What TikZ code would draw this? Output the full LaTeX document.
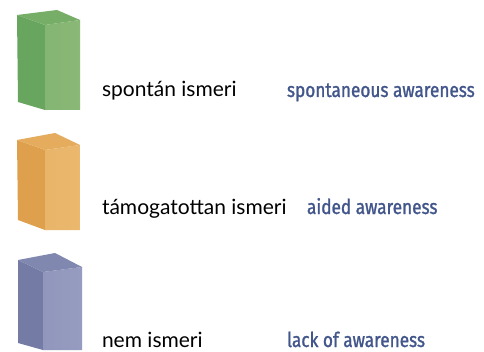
\documentclass[tikz,border=0pt]{standalone}
\usepackage{fontspec}
\setmainfont{Lato}
\newfontfamily\engFont[FakeStretch=0.84,FakeBold=1.2]{Fira Sans}
\begin{document}
\begin{tikzpicture}[x=1pt,y=1pt]
\definecolor{fillColor}{RGB}{255,255,255}
\path[use as bounding box,fill=fillColor] (0,0) rectangle (484,351);
\tikzset{
  huLabel/.style={text=black,anchor=base west,inner sep=0pt,outer sep=0pt,font=\fontsize{21}{24}\selectfont},
  enLabel/.style={text=engColor,anchor=base west,inner sep=0pt,outer sep=0pt,font=\engFont\fontsize{20.5}{24}\selectfont}
}
\definecolor{engColor}{RGB}{66,86,140}

% green box
\definecolor{sideColor}{RGB}{104,166,96}
\definecolor{frontColor}{RGB}{138,184,118}
\definecolor{topColor}{RGB}{118,174,104}
\path[fill=sideColor] (17,336) -- (45,326) -- (45,241) -- (18,249) -- cycle;
\path[left color=frontColor!85!sideColor,right color=frontColor] (45,326) -- (80,331) -- (80,241) -- (45,241) -- cycle;
\path[fill=topColor] (17,336) -- (57,341) -- (80,331) -- (45,326) -- cycle;

% orange box
\definecolor{sideColor}{RGB}{222,160,76}
\definecolor{frontColor}{RGB}{234,184,110}
\definecolor{topColor}{RGB}{228,172,92}
\path[fill=sideColor] (17,211) -- (45,201) -- (45,121) -- (18,131) -- cycle;
\path[left color=frontColor!85!sideColor,right color=frontColor] (45,201) -- (80,206) -- (80,121) -- (45,121) -- cycle;
\path[fill=topColor] (17,211) -- (55,218) -- (80,206) -- (45,201) -- cycle;

% purple box
\definecolor{sideColor}{RGB}{116,124,166}
\definecolor{frontColor}{RGB}{150,156,192}
\definecolor{topColor}{RGB}{128,136,176}
\path[fill=sideColor] (18,91) -- (43,79) -- (43,1) -- (18,8) -- cycle;
\path[left color=frontColor!85!sideColor,right color=frontColor] (43,79) -- (82,84) -- (82,1) -- (43,1) -- cycle;
\path[fill=topColor] (18,91) -- (55,98) -- (82,84) -- (43,79) -- cycle;

% labels
\node[huLabel] (spont) at (102,254) {spontán ismeri};
\node[enLabel] (spontEn) at (287,254) {spontaneous awareness};

\node[huLabel] (aided) at (102,137) {támogatottan ismeri};
\node[enLabel] (aidedEn) at (307,137) {aided awareness};

\node[huLabel] (lack) at (102,4) {nem ismeri};
\node[enLabel] (lackEn) at (287,4) {lack of awareness};
\end{tikzpicture}
\end{document}
